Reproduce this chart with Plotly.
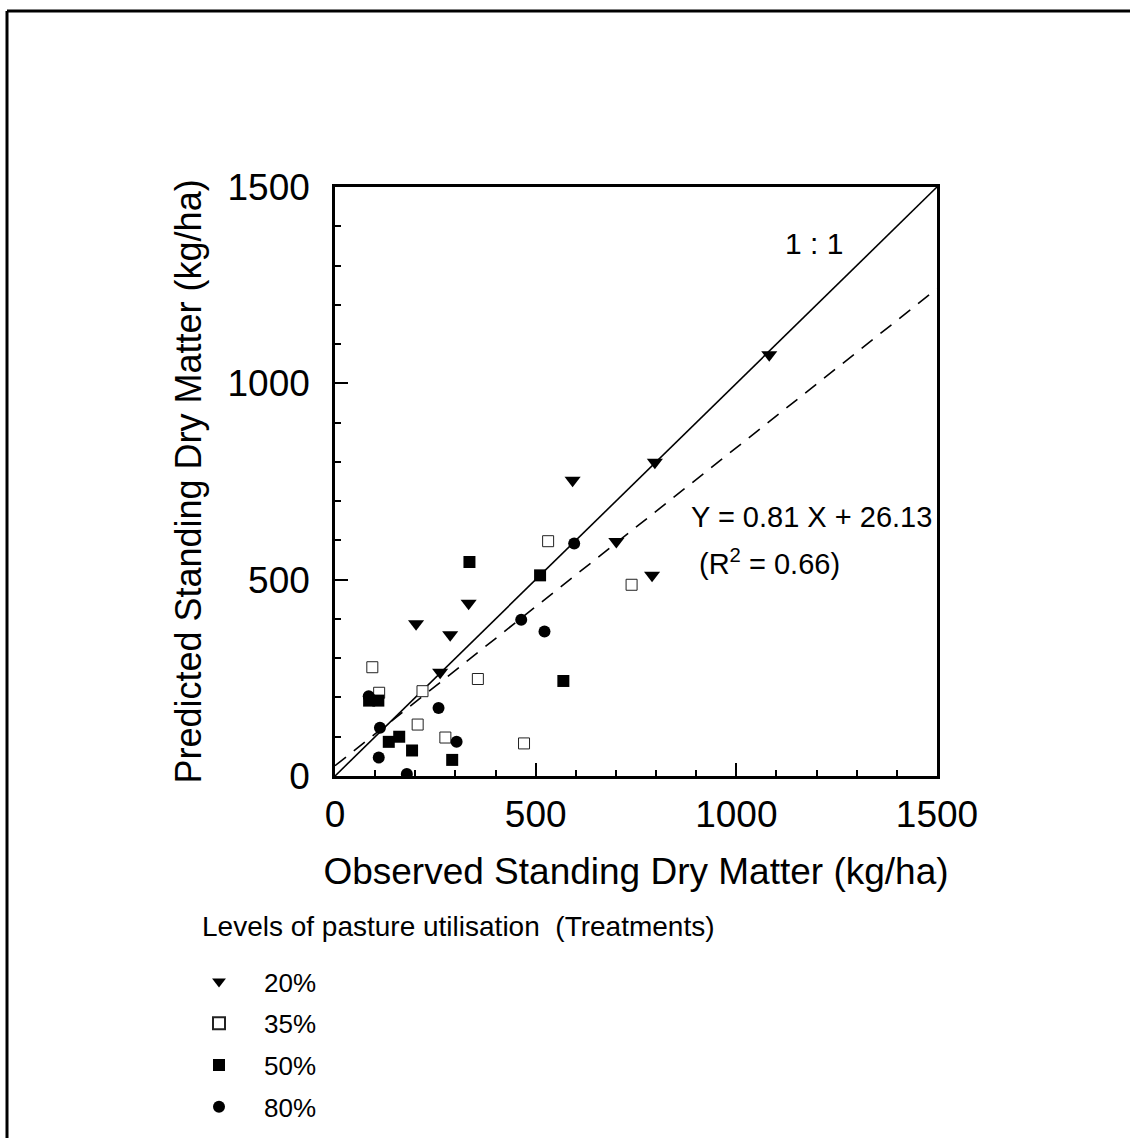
import plotly.graph_objects as go

# ---- data (observed, predicted) in kg/ha ----
t20_obs = [1082, 797, 592, 701, 790, 333, 202, 287, 262]
t20_pred = [1073, 799, 753, 597, 511, 440, 388, 360, 264]

t35_obs = [531, 739, 93, 356, 110, 218, 206, 275, 471]
t35_pred = [598, 487, 277, 247, 212, 216, 131, 98, 83]

t50_obs = [335, 511, 569, 85, 108, 134, 160, 192, 292]
t50_pred = [545, 511, 242, 192, 192, 87, 100, 65, 41]

t80_obs = [596, 464, 522, 84, 258, 112, 303, 109, 179]
t80_pred = [592, 398, 368, 203, 173, 123, 87, 47, 5]

line_x = [0, 1500]
slope = 0.81
intercept = 26.13
reg_y = [slope * v + intercept for v in line_x]

x_ticks = [0, 500, 1000, 1500]
y_ticks = [0, 500, 1000, 1500]

FONT = "Liberation Sans, Arial, Helvetica, sans-serif"

fig = go.Figure()

fig.add_trace(go.Scatter(x=line_x, y=line_x, mode="lines",
                         line=dict(color="black", width=1.6),
                         showlegend=False, hoverinfo="skip"))
fig.add_trace(go.Scatter(x=line_x, y=reg_y, mode="lines",
                         line=dict(color="black", width=1.6, dash="14px,10px"),
                         showlegend=False, hoverinfo="skip"))

fig.add_trace(go.Scatter(x=t20_obs, y=t20_pred, mode="markers", name="20%",
                         legendgroup="g1",
                         marker=dict(symbol="triangle-down", size=14, color="black",
                                     line=dict(width=0))))
fig.add_trace(go.Scatter(x=t35_obs, y=t35_pred, mode="markers", name="35%",
                         legendgroup="g2",
                         marker=dict(symbol="square", size=11, color="white",
                                     line=dict(color="#222222", width=1))))
fig.add_trace(go.Scatter(x=t50_obs, y=t50_pred, mode="markers", name="50%",
                         legendgroup="g3",
                         marker=dict(symbol="square", size=12, color="black",
                                     line=dict(width=0))))
fig.add_trace(go.Scatter(x=t80_obs, y=t80_pred, mode="markers", name="80%",
                         legendgroup="g4",
                         marker=dict(symbol="circle", size=12, color="black",
                                     line=dict(width=0))))

axis_common = dict(
    showgrid=False, zeroline=False, showline=True, linecolor="black",
    linewidth=2.5, mirror=True, ticks="inside", ticklen=13, tickwidth=2,
    tickcolor="black", range=[0, 1500],
    tickfont=dict(family=FONT, size=37, color="black"),
    minor=dict(ticks="inside", ticklen=6, tickwidth=1.5, tickcolor="black", dtick=100),
)

fig.update_xaxes(**axis_common, tickvals=x_ticks, ticklabelstandoff=4,
                 title=dict(text="Observed Standing Dry Matter (kg/ha)",
                            font=dict(family=FONT, size=37, color="black"),
                            standoff=24))
fig.update_yaxes(**axis_common, tickvals=y_ticks, ticklabelstandoff=15,
                 title=dict(text="Predicted Standing Dry Matter (kg/ha)",
                            font=dict(family=FONT, size=36, color="black"),
                            standoff=15))

fig.add_annotation(x=1116, y=1355, text="1 : 1", showarrow=False, xanchor="left",
                   font=dict(family=FONT, size=30, color="black"))
fig.add_annotation(x=882, y=660, text="Y = 0.81 X + 26.13", showarrow=False,
                   xanchor="left", font=dict(family=FONT, size=29, color="black"))
fig.add_annotation(x=902, y=545, text="(R<sup>2</sup> = 0.66)", showarrow=False,
                   xanchor="left", font=dict(family=FONT, size=29, color="black"))

# legend heading
fig.add_annotation(xref="paper", yref="paper",
                   x=(200 - 335) / 602, y=(776 - 927) / 589,
                   xanchor="left", yanchor="middle", showarrow=False,
                   text="Levels of pasture utilisation \u00a0(Treatments)",
                   font=dict(family=FONT, size=28, color="black"))

# outer frame (top and left edges)
fig.add_shape(type="line", xref="paper", yref="paper",
              x0=(7 - 335) / 602, x1=(1135 - 335) / 602,
              y0=(776 - 11) / 589, y1=(776 - 11) / 589,
              line=dict(color="black", width=3))
fig.add_shape(type="line", xref="paper", yref="paper",
              x0=(7 - 335) / 602, x1=(7 - 335) / 602,
              y0=(776 - 11) / 589, y1=(776 - 1145) / 589,
              line=dict(color="black", width=3))

fig.update_layout(
    width=1130, height=1138,
    margin=dict(l=335, r=193, t=187, b=362, autoexpand=False),
    paper_bgcolor="white", plot_bgcolor="white",
    font=dict(family=FONT, color="black"),
    showlegend=True,
    legend=dict(
        x=(174 - 335) / 602, xanchor="left",
        y=(776 - 958) / 589, yanchor="top",
        font=dict(family=FONT, size=26, color="black"),
        itemwidth=80,
        itemsizing="constant",
        tracegroupgap=5,
        bgcolor="rgba(0,0,0,0)",
    ),
)

fig.write_html("out.html")
